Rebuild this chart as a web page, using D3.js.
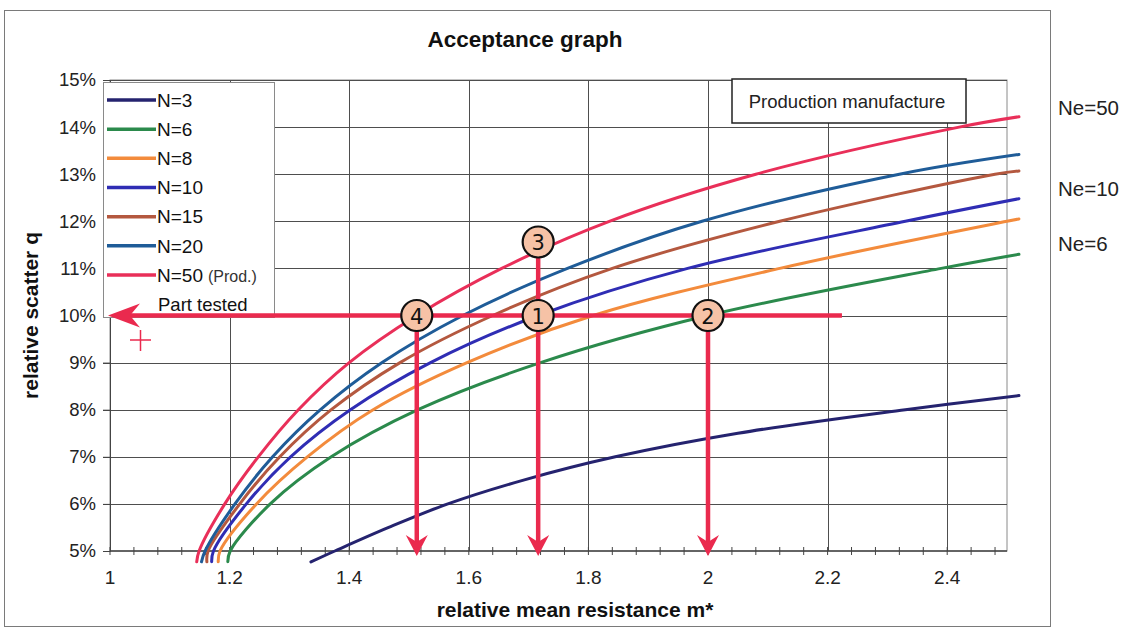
<!DOCTYPE html>
<html>
<head>
<meta charset="utf-8">
<script src="https://cdn.jsdelivr.net/npm/d3@7"></script>
<style>
  html, body { margin: 0; padding: 0; background: #fff; }
  svg { display: block; font-family: "Liberation Sans", Arial, sans-serif; }
</style>
</head>
<body>
<svg id="chart" width="1131" height="635"></svg>
<script>
// Acceptance graph: relative scatter q versus relative mean resistance m*
const sampleSizes = ["N=3", "N=6", "N=8", "N=10", "N=15", "N=20", "N=50"];
const seriesColors = ["#25236f", "#2b8a4c", "#f38b3c", "#2f2db4", "#b4583f", "#1f5c98", "#e92f59"];

// each curve: scatter q (%) and the m* where the curve reaches it
const qN3  = [4.77, 5, 5.5, 6, 6.5, 7, 7.5, 8, 8.3];
const mN3  = [1.336, 1.376, 1.466, 1.565, 1.69, 1.845, 2.05, 2.33, 2.52];
const qN6  = [4.77, 5, 6, 7, 8, 9, 10, 11, 11.3];
const mN6  = [1.197, 1.201, 1.268, 1.37, 1.515, 1.72, 2.0, 2.39, 2.52];
const qN8  = [4.77, 5, 6, 7, 8, 9, 10, 11, 12, 12.05];
const mN8  = [1.181, 1.184, 1.245, 1.33, 1.44, 1.597, 1.808, 2.12, 2.5, 2.52];
const qN10 = [4.77, 5, 6, 7, 8, 9, 10, 11, 12, 12.48];
const mN10 = [1.170, 1.173, 1.228, 1.302, 1.402, 1.536, 1.716, 1.966, 2.33, 2.52];
const qN15 = [4.77, 5, 6, 7, 8, 9, 10, 11, 12, 13, 13.07];
const mN15 = [1.162, 1.164, 1.217, 1.284, 1.37, 1.485, 1.64, 1.84, 2.12, 2.48, 2.52];
const qN20 = [4.77, 5, 6, 7, 8, 9, 10, 11, 12, 13, 13.42];
const mN20 = [1.153, 1.159, 1.209, 1.272, 1.352, 1.455, 1.59, 1.765, 1.99, 2.32, 2.52];
const qN50 = [4.77, 5, 6, 7, 8, 9, 10, 11, 12, 13, 14, 14.22];
const mN50 = [1.145, 1.149, 1.192, 1.248, 1.315, 1.40, 1.513, 1.655, 1.835, 2.08, 2.42, 2.52];

const xTicks = [1, 1.2, 1.4, 1.6, 1.8, 2, 2.2, 2.4];
const yTicks = [5, 6, 7, 8, 9, 10, 11, 12, 13, 14, 15];

// reading example: target scatter and the marked points 1 to 4
const qTarget = 10;
const markLabels = ["1", "2", "3", "4"];
const markM = [1.716, 2.0, 1.716, 1.513];
const markQ = [10, 10, 11.56, 10];
const arrowStartM = 2.224;

const ratioLabels = ["Ne=50", "Ne=10", "Ne=6"];

const svg = d3.select("#chart");
const x = d3.scaleLinear().domain([1, 2.5]).range([110, 1007]);
const y = d3.scaleLinear().domain([5, 15]).range([551, 80]);
const FONT = "'Liberation Sans', Arial, sans-serif";

// chart frame
svg.append("rect").attr("x", 4.5).attr("y", 10.5).attr("width", 1046).attr("height", 616)
  .attr("fill", "#fff").attr("stroke", "#7a7a7a").attr("stroke-width", 1);

// title
svg.append("text").attr("x", 525).attr("y", 47).attr("text-anchor", "middle")
  .attr("font-size", 22.5).attr("font-weight", "bold").attr("fill", "#111").text("Acceptance graph");

// plot area + grid
svg.append("rect").attr("x", x(1)).attr("y", y(15)).attr("width", x(2.5) - x(1)).attr("height", y(5) - y(15))
  .attr("fill", "#fff").attr("stroke", "#8a8a8a").attr("stroke-width", 1);

const grid = svg.append("g").attr("stroke", "#4e4e4e").attr("stroke-width", 1);
grid.selectAll("line.v").data(xTicks.slice(1)).join("line")
  .attr("x1", d => Math.round(x(d)) + 0.5).attr("x2", d => Math.round(x(d)) + 0.5)
  .attr("y1", y(15)).attr("y2", y(5));
grid.selectAll("line.h").data(yTicks.slice(1)).join("line")
  .attr("x1", x(1) - 7).attr("x2", x(2.5))
  .attr("y1", d => Math.round(y(d)) + 0.5).attr("y2", d => Math.round(y(d)) + 0.5);

// y axis
const yAxis = d3.axisLeft(y).tickValues(yTicks).tickFormat(d => d + "%").tickSize(7).tickPadding(7);
const gy = svg.append("g").attr("transform", `translate(${x(1)},0)`).call(yAxis);
gy.select(".domain").attr("stroke", "#444");
gy.selectAll(".tick line").attr("stroke", "#444");
gy.selectAll("text").attr("font-size", 18.5).attr("fill", "#222").attr("font-family", FONT);

// x axis with minor ticks crossing the line
const minorTicks = d3.range(0, 38).map(i => 1 + i * 0.04);
const gx = svg.append("g").attr("transform", `translate(0,${y(5)})`);
gx.append("line").attr("x1", x(1)).attr("x2", x(2.5)).attr("stroke", "#444").attr("stroke-width", 1.5);
gx.selectAll("line.minor").data(minorTicks).join("line")
  .attr("x1", d => x(d)).attr("x2", d => x(d)).attr("y1", -4).attr("y2", 4)
  .attr("stroke", "#444").attr("stroke-width", 1);
gx.selectAll("text").data(xTicks).join("text")
  .attr("x", d => x(d)).attr("y", 33).attr("text-anchor", "middle")
  .attr("font-size", 19).attr("fill", "#222").text(d => d3.format("~g")(d));

// axis titles
svg.append("text").attr("transform", `translate(38,${y(10)}) rotate(-90)`).attr("text-anchor", "middle")
  .attr("font-size", 21).attr("font-weight", "bold").attr("fill", "#111").text("relative scatter q");
svg.append("text").attr("x", 575).attr("y", 617).attr("text-anchor", "middle")
  .attr("font-size", 21).attr("font-weight", "bold").attr("fill", "#111").text("relative mean resistance m*");

// curves
const mSets = [mN3, mN6, mN8, mN10, mN15, mN20, mN50];
const qSets = [qN3, qN6, qN8, qN10, qN15, qN20, qN50];
const line = d3.line().x(d => x(d[0])).y(d => y(d[1])).curve(d3.curveCatmullRom.alpha(0.5));
sampleSizes.forEach((name, i) => {
  const pts = qSets[i].map((q, j) => [mSets[i][j], q]);
  svg.append("path").datum(pts).attr("d", line)
    .attr("fill", "none").attr("stroke", seriesColors[i]).attr("stroke-width", 3)
    .attr("stroke-linecap", "round").attr("stroke-linejoin", "round");
});

// production manufacture box
svg.append("rect").attr("x", 732).attr("y", 79).attr("width", 234).attr("height", 44)
  .attr("fill", "#fff").attr("stroke", "#222").attr("stroke-width", 1.5);
svg.append("text").attr("x", 847).attr("y", 107.5).attr("text-anchor", "middle")
  .attr("font-size", 18.5).attr("fill", "#222").text("Production manufacture");

// legend
const legend = svg.append("g");
legend.append("rect").attr("x", 103.5).attr("y", 82.5).attr("width", 171).attr("height", 235)
  .attr("fill", "#fff").attr("stroke", "#8a8a8a").attr("stroke-width", 1);
const legendY = d3.scalePoint().domain(sampleSizes).range([100, 275]);
sampleSizes.forEach((name, i) => {
  const ly = legendY(name);
  legend.append("line").attr("x1", 107).attr("x2", 156).attr("y1", ly).attr("y2", ly)
    .attr("stroke", seriesColors[i]).attr("stroke-width", 3.5);
  const t = legend.append("text").attr("x", 157).attr("y", ly + 6.8).attr("font-size", 19).attr("fill", "#111");
  t.append("tspan").text(name);
  if (name === "N=50") t.append("tspan").attr("font-size", 16).attr("dx", 5).attr("fill", "#333").text("(Prod.)");
});
legend.append("text").attr("x", 158).attr("y", 311).attr("font-size", 18.5).attr("fill", "#111").text("Part tested");

// reading example arrows
const red = "#ea2a4e";
const ann = svg.append("g");
const yT = y(qTarget);
ann.append("line").attr("x1", x(arrowStartM)).attr("x2", x(1) + 16).attr("y1", yT).attr("y2", yT)
  .attr("stroke", red).attr("stroke-width", 4.5);
ann.append("path")
  .attr("d", `M${x(1) - 2},${yT} L${x(1) + 30},${yT - 12} L${x(1) + 20},${yT} L${x(1) + 30},${yT + 12} Z`)
  .attr("fill", red);

const downMarks = [3, 2, 1]; // from 4, from 3 (through 1), from 2
downMarks.forEach(k => {
  const mx = x(markM[k]);
  const top = y(markQ[k]);
  const tip = y(5) + 5;
  ann.append("line").attr("x1", mx).attr("x2", mx).attr("y1", top).attr("y2", tip - 12)
    .attr("stroke", red).attr("stroke-width", 4.5);
  ann.append("path")
    .attr("d", `M${mx},${tip} L${mx - 11},${tip - 21} L${mx},${tip - 14} L${mx + 11},${tip - 21} Z`)
    .attr("fill", red);
});

// circled numbers
markLabels.forEach((lab, k) => {
  const cx = x(markM[k]), cy = y(markQ[k]);
  ann.append("circle").attr("cx", cx).attr("cy", cy).attr("r", 15.5)
    .attr("fill", "#f6c2a6").attr("stroke", "#111").attr("stroke-width", 2.2);
  ann.append("text").attr("x", cx).attr("y", cy + 8).attr("text-anchor", "middle")
    .attr("font-family", "'DejaVu Sans', sans-serif")
    .attr("font-size", 21).attr("fill", "#111").text(lab);
});

// small plus marker
ann.append("path").attr("d", "M130,340 H151 M140.5,330 V351")
  .attr("stroke", red).attr("stroke-width", 1.5).attr("fill", "none");

// sample ratio labels at the right
const ratioY = [115, 196, 251];
ratioLabels.forEach((lab, i) => {
  svg.append("text").attr("x", 1058).attr("y", ratioY[i]).attr("font-size", 20.5).attr("fill", "#222").text(lab);
});
</script>
</body>
</html>
